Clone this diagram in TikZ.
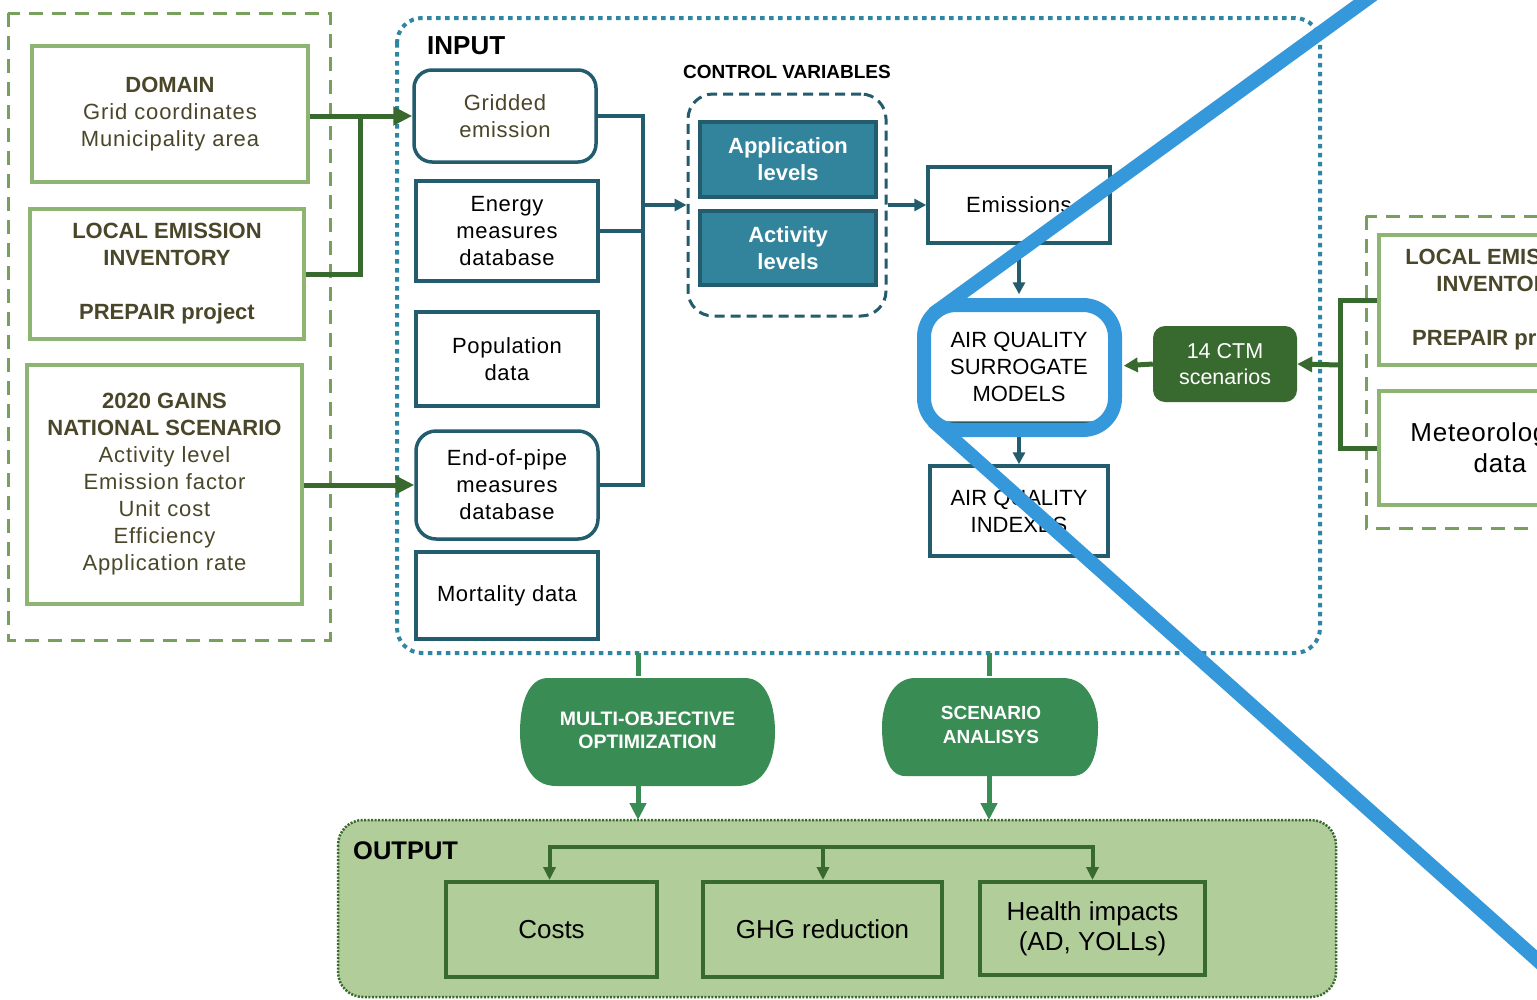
\documentclass[tikz,border=0pt]{standalone}
\usepackage{fontspec}
\setmainfont{Liberation Sans}
\newfontfamily\rgsp[LetterSpace=4,BoldFeatures={LetterSpace=0}]{Liberation Sans}
\newfontfamily\rgspb[LetterSpace=3,BoldFeatures={LetterSpace=0}]{Liberation Sans}
\usetikzlibrary{arrows.meta}
\newcommand{\fsz}[2]{\fontsize{#1}{#2}\selectfont}
\definecolor{lgreen}{HTML}{8DB472}
\definecolor{dashgreen}{HTML}{76A05C}
\definecolor{txtolive}{HTML}{4A4629}
\definecolor{agreen}{HTML}{38692E}
\definecolor{tealb}{HTML}{235C6C}
\definecolor{tealf}{HTML}{31849B}
\definecolor{tealdot}{HTML}{2E86A3}
\definecolor{mgreen}{HTML}{3A8C55}
\definecolor{outfill}{HTML}{B1CD99}
\definecolor{hblue}{HTML}{3498DB}
\begin{document}
\begin{tikzpicture}[x=1pt,y=-1pt,
  lgbox/.style={draw=lgreen,line width=3.5pt,text=txtolive,align=center,inner sep=0pt,fill=white,font=\rgsp\fsz{22}{27}},
  tbox/.style={draw=tealb,line width=3.5pt,align=center,inner sep=0pt,fill=white,font=\rgspb\fsz{22}{27}},
  cvbox/.style={draw=tealb,fill=tealf,line width=3.5pt,align=center,inner sep=0pt,text=white,font=\fsz{22}{27}\bfseries,minimum width=176pt},
  obox/.style={draw=agreen,line width=4pt,align=center,inner sep=0pt,font=\fsz{26}{30},minimum height=95pt},
  outerdash/.style={draw=dashgreen,line width=3pt,dash pattern=on 14pt off 9pt},
  garrow/.style={draw=agreen,line width=5pt,-{Triangle[length=19pt,width=18pt]}},
  gline/.style={draw=agreen,line width=5pt},
  tarrow/.style={draw=tealb,line width=4pt,-{Triangle[length=12pt,width=12pt]}},
  tline/.style={draw=tealb,line width=4pt},
  marrow/.style={draw=mgreen,line width=5pt,-{Triangle[length=17pt,width=16pt]}},
  mline/.style={draw=mgreen,line width=5pt},
  oarrow/.style={draw=agreen,line width=4pt,-{Triangle[length=13pt,width=12pt]}},
  lbl/.style={inner sep=0pt,font=\bfseries}
]
\useasboundingbox (0,0) rectangle (1537,999);
\clip (0,0) rectangle (1537,999);
\fill[white] (0,0) rectangle (1537,999);

% ---------- left source block ----------
\draw[outerdash] (8,13) rectangle (330,640);
\node[lgbox,minimum width=276pt,minimum height=136pt] (domain) at (170,114)
  {\bfseries DOMAIN\\Grid coordinates\\Municipality area};
\node[lgbox,minimum width=274pt,minimum height=130pt] (local) at (167,274)
  {\bfseries LOCAL EMISSION\\\bfseries INVENTORY\\[27pt]\bfseries PREPAIR project};
\node[lgbox,minimum width=275pt,minimum height=239pt] (gains) at (164.5,484.5)
  {\bfseries 2020 GAINS\\\bfseries NATIONAL SCENARIO\\Activity level\\Emission factor\\Unit cost\\Efficiency\\Application rate};

% ---------- INPUT block ----------
\draw[draw=tealdot,line width=4pt,dash pattern=on 4.5pt off 4.5pt,rounded corners=25pt] (397,18) rectangle (1320,653);
\node[lbl,anchor=west,font=\fsz{26}{30}\bfseries] (inputlbl) at (427,46) {INPUT};

\node[tbox,rounded corners=18pt,minimum width=182pt,minimum height=92pt,text=txtolive] (grid) at (505,116) {Gridded\\emission};
\node[tbox,minimum width=182pt,minimum height=100pt] (energy) at (507,231) {Energy\\measures\\database};
\node[tbox,minimum width=182pt,minimum height=94pt] (pop) at (507,359) {Population\\data};
\node[tbox,rounded corners=20pt,minimum width=182pt,minimum height=108pt] (eop) at (507,485) {End-of-pipe\\measures\\database};
\node[tbox,minimum width=182pt,minimum height=87pt] (mort) at (507,595.5) {Mortality data};

\node[lbl,font=\fsz{19}{23}\bfseries] (cvlbl) at (787,72) {CONTROL VARIABLES};
\node[draw=tealb,line width=3pt,dash pattern=on 10pt off 6pt,rounded corners=25pt,minimum width=198pt,minimum height=222pt,inner sep=0pt] (ctrl) at (787,205) {};
\node[cvbox,minimum height=75pt] (app) at (788,159.5) {Application\\levels};
\node[cvbox,minimum height=74pt] (act) at (788,248) {Activity\\levels};

\node[tbox,minimum width=182pt,minimum height=76pt] (emis) at (1019,205) {Emissions};
\node[tbox,rounded corners=18pt,minimum width=182pt,minimum height=113pt,font=\fsz{22}{27}] (aqs) at (1019,366.5) {AIR QUALITY\\SURROGATE\\MODELS};
\node[tbox,minimum width=178pt,minimum height=90pt,font=\fsz{22}{27}] (aqi) at (1019,511) {AIR QUALITY\\INDEXES};

\node[fill=agreen,rounded corners=12pt,minimum width=144pt,minimum height=76pt,inner sep=0pt,text=white,align=center,font=\fsz{21.5}{26}] (ctm) at (1225,364) {14 CTM\\scenarios};

% teal connectors
\coordinate (bus) at (643,205);
\draw[tline] (grid.east) -| (bus) |- (eop.east);
\draw[tline] (energy.east) -- (energy.east -| bus);
\draw[tarrow] (bus) -- (ctrl.west);
\draw[tarrow] (ctrl.east) -- (emis.west);
\draw[tarrow,shorten >=14pt] (emis.south) -- (aqs.north);
\draw[tarrow] (aqs.south) -- (aqi.north);

% left green connectors
\coordinate (lb) at (360,117);
\draw[garrow] (domain.east |- grid.west) -- (grid.west);
\draw[gline] (local.east) -| (lb);
\draw[garrow] (gains.east |- eop.west) -- (eop.west);

% ---------- right source block ----------
\draw[outerdash] (1366,216) rectangle (1600,528);
\node[lgbox,minimum width=242pt,minimum height=130pt] (rlocal) at (1500,300)
  {\bfseries LOCAL EMISSION\\\bfseries INVENTORY\\[27pt]\bfseries PREPAIR project};
\node[lgbox,minimum width=242pt,minimum height=114pt,text=black,font=\rgspb\fsz{26}{31}] (met) at (1500,448) {Meteorological\\data};
\coordinate (rb) at (1340,365);
\draw[gline] (rlocal.west) -| (rb) |- (met.west);
\draw[draw=agreen,line width=5pt,-{Triangle[length=15pt,width=15pt]}] (rb) -- (ctm.east);
\draw[draw=agreen,line width=5pt,-{Triangle[length=14pt,width=14pt]},shorten >=12pt] (ctm.west) -- (aqs.east);

% ---------- analysis shapes ----------
\fill[mgreen] (548,678) -- (745,678) .. controls (767,678) and (775,706) .. (775,732) .. controls (775,760) and (765,786) .. (737,786) -- (556,786) .. controls (530,786) and (520,760) .. (520,732) .. controls (520,704) and (528,678) .. (548,678) -- cycle;
\node[minimum width=255pt,minimum height=108pt,inner sep=0pt,text=white,align=center,font=\fsz{19.5}{23}\bfseries] (moo) at (647.5,730) {MULTI-OBJECTIVE\\OPTIMIZATION};
\fill[mgreen] (915,678) -- (1063,678) .. controls (1088,678) and (1098,705) .. (1098,727) .. controls (1098,752) and (1092,776) .. (1072,776) -- (905,776) .. controls (888,776) and (882,752) .. (882,727) .. controls (882,703) and (893,678) .. (915,678) -- cycle;
\node[minimum width=216pt,minimum height=98pt,inner sep=0pt,text=white,align=center,font=\fsz{19}{24}\bfseries] (sa) at (991,725) {SCENARIO\\ANALISYS};

% ---------- OUTPUT block ----------
\path[fill=outfill,draw=agreen,line width=2.5pt,dash pattern=on 2pt off 1.5pt,rounded corners=25pt] (338,820) rectangle (1336,997);
\coordinate (outtop) at (700,820);
\node[lbl,anchor=west,font=\fsz{25.5}{30}\bfseries] (outlbl) at (353,851) {OUTPUT};
\node[obox,minimum width=211pt] (costs) at (551.5,929.5) {Costs};
\node[obox,minimum width=239pt] (ghg) at (822.5,929.5) {GHG reduction};
\node[obox,minimum width=225pt,minimum height=93pt] (health) at (1092.5,928.5) {Health impacts\\(AD, YOLLs)};

\coordinate (ina) at (638,653);
\coordinate (inb) at (989,653);
\draw[mline] (ina) -- (ina |- moo.north);
\draw[marrow] (ina |- moo.south) -- (ina |- outtop);
\draw[mline] (inb) -- (inb |- sa.north);
\draw[marrow] (inb |- sa.south) -- (inb |- outtop);

\coordinate (ob) at (823,847);
\draw[oarrow] (ob) -| ([xshift=-2pt]costs.north);
\draw[oarrow] (ob) -| (health.north);
\draw[oarrow] (ob) -- (ob |- ghg.north);

% ---------- highlight overlay ----------
\draw[hblue,line width=14pt,rounded corners=32pt] (924,305) rectangle (1115,430);
\draw[hblue,line width=14pt] (933,314) -- (1400,-25);
\draw[hblue,line width=14pt] (933,421) -- (1600,1016);
\end{tikzpicture}
\end{document}
